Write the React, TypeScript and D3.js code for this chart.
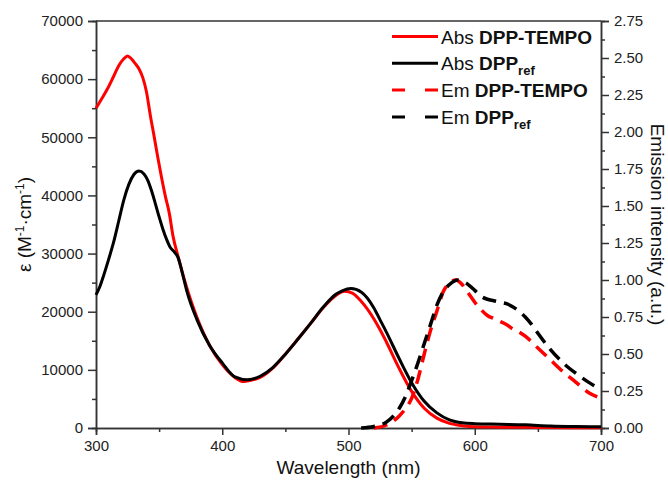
import React, { useEffect, useRef } from 'react'
import * as d3 from 'd3'

// absorption, DPP-TEMPO (red solid)
const wlAbsTempo = [300, 305, 309, 314, 318, 322, 325, 328, 331, 334, 337, 340, 343, 346, 349, 352, 355, 358, 361, 365, 370, 375, 380, 390, 400, 410, 416, 420, 430, 440, 450, 460, 470, 480, 490, 497, 503, 510, 520, 525, 530, 540, 550, 560, 570, 580, 590, 600, 620, 650, 680, 700]
const absTempo = [55000, 56800, 58300, 60500, 62300, 63500, 64000, 63500, 62700, 61800, 60300, 57800, 53800, 50200, 46500, 43000, 39800, 37000, 33000, 29500, 25500, 22000, 19000, 14200, 10900, 8700, 8000, 8100, 8700, 10300, 12700, 15300, 18000, 20700, 22800, 23500, 23200, 21800, 18800, 16900, 14800, 10300, 6300, 3400, 1700, 800, 400, 200, 150, 100, 60, 50]

// absorption, DPP_ref (black solid)
const wlAbsRef = [300, 303, 306, 310, 314, 318, 322, 326, 330, 334, 338, 341, 344, 347, 350, 353, 356, 359, 362, 365, 368, 372, 380, 390, 400, 410, 420, 430, 440, 450, 460, 470, 480, 490, 495, 502, 510, 520, 525, 530, 540, 550, 560, 570, 580, 590, 600, 620, 640, 660, 680, 700]
const absRef = [22900, 24300, 26200, 29000, 32000, 35600, 39200, 41900, 43600, 44200, 43700, 42600, 40800, 38600, 36300, 34200, 32400, 31000, 30300, 29300, 27000, 23500, 18600, 14200, 11200, 8800, 8300, 8900, 10400, 12700, 15300, 18000, 20800, 23000, 23600, 24000, 23400, 20700, 18600, 16500, 12000, 7800, 4600, 2600, 1400, 900, 750, 650, 550, 350, 250, 200]

// emission, DPP-TEMPO (red dashed)
const wlEmTempo = [520, 530, 540, 545, 550, 555, 560, 565, 570, 575, 580, 585, 590, 595, 600, 605, 610, 615, 620, 625, 630, 635, 640, 650, 660, 670, 680, 690, 697]
const emTempo = [0.0, 0.02, 0.08, 0.13, 0.2, 0.33, 0.5, 0.66, 0.79, 0.92, 0.98, 1.0, 0.97, 0.91, 0.85, 0.8, 0.76, 0.74, 0.72, 0.7, 0.67, 0.65, 0.62, 0.54, 0.46, 0.38, 0.31, 0.24, 0.21]

// emission, DPP_ref (black dashed)
const wlEmRef = [510, 520, 530, 540, 545, 550, 555, 560, 565, 570, 575, 580, 587, 593, 600, 605, 610, 615, 620, 625, 630, 635, 640, 645, 650, 660, 670, 680, 690, 700]
const emRef = [0.0, 0.01, 0.04, 0.13, 0.21, 0.32, 0.44, 0.57, 0.7, 0.83, 0.92, 0.97, 1.0, 0.98, 0.93, 0.89, 0.87, 0.86, 0.85, 0.84, 0.82, 0.79, 0.75, 0.7, 0.64, 0.53, 0.44, 0.37, 0.31, 0.26]

const leftTicks = [0, 10000, 20000, 30000, 40000, 50000, 60000, 70000]
const leftMinor = [5000, 15000, 25000, 35000, 45000, 55000, 65000]
const xTicks = [300, 400, 500, 600, 700]
const xMinor = [350, 450, 550, 650]
const rightTicks = [0, 0.25, 0.5, 0.75, 1, 1.25, 1.5, 1.75, 2, 2.25, 2.5, 2.75]
const rightMinor = [0.125, 0.375, 0.625, 0.875, 1.125, 1.375, 1.625, 1.875, 2.125, 2.375, 2.625]

const legendItems = [
    { pre: 'Abs ', name: 'DPP-TEMPO', sub: '', color: '#ff0000', dashed: false },
    { pre: 'Abs ', name: 'DPP', sub: 'ref', color: '#000000', dashed: false },
    { pre: 'Em ', name: 'DPP-TEMPO', sub: '', color: '#ff0000', dashed: true },
    { pre: 'Em ', name: 'DPP', sub: 'ref', color: '#000000', dashed: true },
]

const W = 668, H = 480
const margin = { top: 21, right: 67, bottom: 52, left: 96 }
const FONT = '"Liberation Sans", Arial, sans-serif'
const AXIS = '#333'

export default function App() {
    const ref = useRef<SVGSVGElement>(null)

    useEffect(() => {
        const svg = d3.select(ref.current)
        svg.selectAll('*').remove()

        const x = d3.scaleLinear().domain([300, 700]).range([margin.left, W - margin.right])
        const yL = d3.scaleLinear().domain([0, 70000]).range([H - margin.bottom, margin.top])
        const yR = d3.scaleLinear().domain([0, 2.75]).range([H - margin.bottom, margin.top])
        const bottom = H - margin.bottom, right = W - margin.right

        const styleAxis = (g: any) => {
            g.select('.domain').attr('stroke', AXIS).attr('stroke-width', 1.5)
            g.selectAll('.tick line').attr('stroke', AXIS).attr('stroke-width', 1.5)
            g.selectAll('.tick text').attr('fill', '#222').style('font-size', '15px').style('font-family', FONT)
        }

        // frame top
        svg.append('line')
            .attr('x1', margin.left).attr('x2', right)
            .attr('y1', margin.top).attr('y2', margin.top)
            .attr('stroke', AXIS).attr('stroke-width', 1.5)

        // minor ticks first
        svg.append('g').attr('transform', `translate(0,${bottom})`)
            .call(d3.axisBottom(x).tickValues(xMinor).tickSize(4).tickFormat(() => ''))
            .call(styleAxis)
        svg.append('g').attr('transform', `translate(${margin.left},0)`)
            .call(d3.axisLeft(yL).tickValues(leftMinor).tickSize(4).tickFormat(() => ''))
            .call(styleAxis)
        svg.append('g').attr('transform', `translate(${right},0)`)
            .call(d3.axisRight(yR).tickValues(rightMinor).tickSize(4).tickFormat(() => ''))
            .call(styleAxis)

        svg.append('g').attr('transform', `translate(0,${bottom})`)
            .call(d3.axisBottom(x).tickValues(xTicks).tickSize(7).tickPadding(5).tickFormat(d3.format('d')))
            .call(styleAxis)
        svg.append('g').attr('transform', `translate(${margin.left},0)`)
            .call(d3.axisLeft(yL).tickValues(leftTicks).tickSize(8).tickPadding(5).tickFormat(d3.format('d')))
            .call(styleAxis)
        svg.append('g').attr('transform', `translate(${right},0)`)
            .call(d3.axisRight(yR).tickValues(rightTicks).tickSize(8).tickPadding(5).tickFormat(d3.format('.2f')))
            .call(styleAxis)

        const plot = svg.append('g')
        const addLine = (xs: number[], ys: number[], yScale: any, color: string, dashed: boolean) => {
            const line = d3.line<number>()
                .x((d, i) => x(xs[i]))
                .y(d => yScale(d))
                .curve(d3.curveMonotoneX)
            plot.append('path')
                .datum(ys)
                .attr('d', line)
                .attr('fill', 'none')
                .attr('stroke', color)
                .attr('stroke-width', dashed ? 3.5 : 3)
                .attr('stroke-linejoin', 'round')
                .attr('stroke-dasharray', dashed ? '14,8' : null)
        }
        addLine(wlAbsTempo, absTempo, yL, '#ff0000', false)
        addLine(wlAbsRef, absRef, yL, '#000000', false)
        addLine(wlEmTempo, emTempo, yR, '#ff0000', true)
        addLine(wlEmRef, emRef, yR, '#000000', true)

        // axis titles
        svg.append('text')
            .attr('x', (margin.left + right) / 2).attr('y', 474)
            .attr('text-anchor', 'middle')
            .style('font-family', FONT).style('font-size', '19px').attr('fill', '#111')
            .text('Wavelength (nm)')

        const cy = (margin.top + bottom) / 2
        const lt = svg.append('text')
            .attr('transform', `translate(31,${cy}) rotate(-90)`)
            .attr('text-anchor', 'middle')
            .style('font-family', FONT).style('font-size', '19px').attr('fill', '#111')
        lt.append('tspan').text('ε (M')
        lt.append('tspan').attr('dy', -7).style('font-size', '12px').text('-1')
        lt.append('tspan').attr('dy', 7).text('·cm')
        lt.append('tspan').attr('dy', -7).style('font-size', '12px').text('-1')
        lt.append('tspan').attr('dy', 7).text(')')

        svg.append('text')
            .attr('transform', `translate(651,${cy}) rotate(90)`)
            .attr('text-anchor', 'middle')
            .style('font-family', FONT).style('font-size', '19px').attr('fill', '#111')
            .text('Emission intensity (a.u.)')

        // legend
        const lg = svg.append('g')
        legendItems.forEach((it, i) => {
            const ly = 36.5 + i * 26.8
            lg.append('line')
                .attr('x1', 392).attr('x2', 438).attr('y1', ly).attr('y2', ly)
                .attr('stroke', it.color).attr('stroke-width', 3)
                .attr('stroke-dasharray', it.dashed ? '13,20' : null)
            const t = lg.append('text')
                .attr('x', 441).attr('y', ly + 7)
                .style('font-family', FONT).style('font-size', '19px').attr('fill', '#111')
            t.append('tspan').text(it.pre)
            t.append('tspan').style('font-weight', 'bold').text(it.name)
            if (it.sub) t.append('tspan').attr('dy', 5).style('font-weight', 'bold').style('font-size', '13px').text(it.sub)
        })
    }, [])

    return (
        <svg ref={ref} width={W} height={H} style={{ position: 'absolute', left: 0, top: 0, background: '#fff' }} />
    )
}
